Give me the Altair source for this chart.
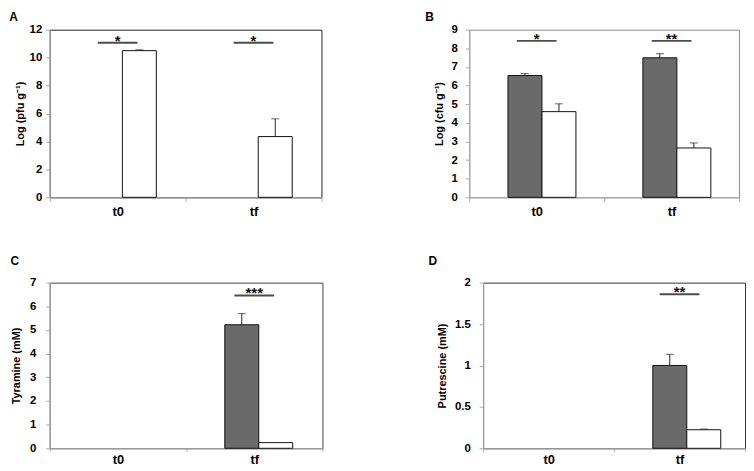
import altair as alt
import pandas as pd

categories = ["t0", "tf"]
series = ["Series 1", "Series 2"]

# Panel A
a_grey = [0.0, 0.0]
a_white = [10.5, 4.35]
a_grey_err = [0.0, 0.0]
a_white_err = [0.06, 1.27]
a_sig = [11.06, 11.06]
a_stars = ["*", "*"]

# Panel B
b_grey = [6.54, 7.49]
b_white = [4.6, 2.65]
b_grey_err = [0.1, 0.22]
b_white_err = [0.42, 0.27]
b_sig = [8.4, 8.4]
b_stars = ["*", "**"]

# Panel C
c_grey = [0.0, 5.22]
c_white = [0.0, 0.24]
c_grey_err = [0.0, 0.47]
c_white_err = [0.0, 0.0]
c_sig = [None, 6.46]
c_stars = ["", "***"]

# Panel D
d_grey = [0.0, 1.0]
d_white = [0.0, 0.224]
d_grey_err = [0.0, 0.135]
d_white_err = [0.0, 0.008]
d_sig = [None, 1.86]
d_stars = ["", "**"]

FONT = "Liberation Sans"


def panel(letter, ytitle, grey, white, grey_err, white_err, sig, stars,
          ymax, yvalues, w, h, pad_outer, align, frame, title_dx, title_offset,
          title_pad, label_pad, x_label_pad, x_tick):
    rows = []
    for i, c in enumerate(categories):
        for s, v, e in ((series[0], grey[i], grey_err[i]),
                        (series[1], white[i], white_err[i])):
            rows.append({"cat": c, "series": s, "value": v, "top": v + e, "err": e})
    bars_df = pd.DataFrame(rows)
    sig_df = pd.DataFrame({"cat": categories, "sig": sig, "stars": stars}).dropna()

    xscale = alt.Scale(domain=categories, paddingInner=0, paddingOuter=0)
    xaxis = alt.Axis(labelAngle=0, labelFontSize=13, labelFontWeight="bold",
                     labelColor="#000", domainColor="#a8a8a8", tickColor="#a8a8a8",
                     tickSize=x_tick, tickBand="extent", labelPadding=x_label_pad,
                     grid=False, labelFont=FONT)
    x = alt.X("cat:N", scale=xscale, axis=xaxis, title=None)
    xo = alt.XOffset("series:N", scale=alt.Scale(domain=series, paddingInner=0,
                                                 paddingOuter=pad_outer, align=align))
    yscale = alt.Scale(domain=[0, ymax], nice=False, zero=True)
    yaxis = alt.Axis(values=yvalues, format="~g", labelFontSize=11.5,
                     labelFontWeight="bold", labelColor="#000", labelFont=FONT,
                     domainColor="#a8a8a8", tickColor="#a8a8a8", tickSize=4,
                     labelPadding=label_pad, grid=False, titleFontSize=11,
                     titleFontWeight="bold", titleColor="#000", titleFont=FONT,
                     titlePadding=title_pad)

    def Y(f):
        return alt.Y(f, type="quantitative", scale=yscale, axis=yaxis, title=ytitle)

    base = alt.Chart(bars_df)
    bars = base.transform_filter("datum.value > 0").mark_bar(
        stroke="#111", strokeWidth=1).encode(
        x=x, xOffset=xo, y=Y("value"),
        fill=alt.Fill("series:N", scale=alt.Scale(domain=series,
                                                  range=["#6a6a6a", "#ffffff"]),
                      legend=None))
    errs = base.transform_filter("datum.err > 0")
    rule = errs.mark_rule(color="#222", strokeWidth=1).encode(
        x=x, xOffset=xo, y=Y("value"), y2=alt.Y2("top"))
    cap = errs.mark_tick(orient="horizontal", size=8, thickness=1, color="#222").encode(
        x=x, xOffset=xo, y=Y("top"))
    sigc = alt.Chart(sig_df)
    line = sigc.mark_tick(orient="horizontal", size=40, thickness=2, color="#000").encode(
        x=x, y=Y("sig"))
    txt = sigc.mark_text(font=FONT, fontSize=15, fontWeight="bold", baseline="alphabetic",
                         dy=3, color="#111").encode(x=x, y=Y("sig"), text="stars:N")
    return alt.layer(bars, rule, cap, line, txt).properties(
        width=w, height=h,
        title=alt.TitleParams(text=letter, anchor="start", frame="bounds", fontSize=12,
                              fontWeight="bold", font=FONT, color="#000",
                              dx=title_dx, offset=title_offset),
        view=alt.ViewBackground(stroke=frame, strokeWidth=1))


A = panel("A", "Log (pfu g⁻¹)", a_grey, a_white, a_grey_err, a_white_err, a_sig, a_stars,
          12, [0, 2, 4, 6, 8, 10, 12], 274, 169, 1.0, 0.57, "#222", -5, 0,
          4, 4, 4, 4)
B = panel("B", "Log (cfu g⁻¹)", b_grey, b_white, b_grey_err, b_white_err, b_sig, b_stars,
          9, list(range(10)), 272, 169, 0.74, 0.5, "#8a8a8a", -8, 0,
          7, 8, 4, 4)
C = panel("C", "Tyramine (mM)", c_grey, c_white, c_grey_err, c_white_err, c_sig, c_stars,
          7, list(range(8)), 275, 167, 0.75, 0.5, "#444", 0, 9,
          8, 10, 2, 3)
D = panel("D", "Putrescine (mM)", d_grey, d_white, d_grey_err, d_white_err, d_sig, d_stars,
          2, [0, 0.5, 1, 1.5, 2], 264, 167, 0.70, 0.5, "#333", -8, 9,
          7, 9, 2, 3)

chart = alt.vconcat(
    alt.hconcat(A, B, spacing=103),
    alt.hconcat(C, D, spacing=105),
    spacing=35,
).properties(padding=0).configure(font=FONT)

chart.save("out.html", embed_options={"renderer": "svg", "actions": False})
